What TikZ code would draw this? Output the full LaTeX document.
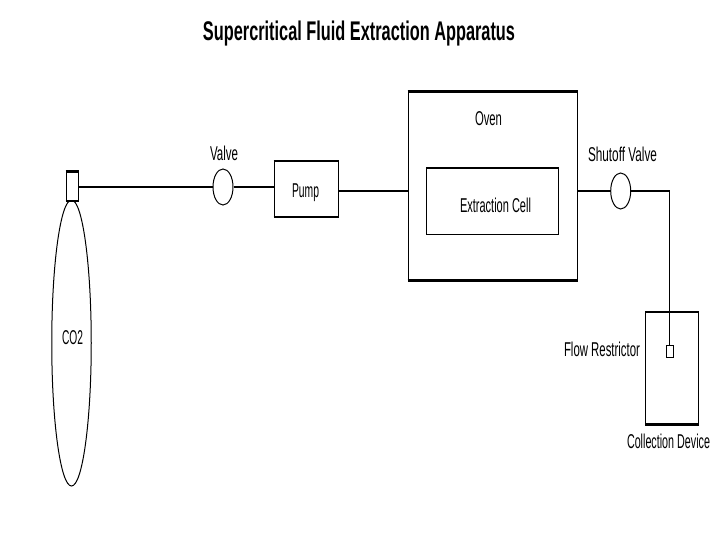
\documentclass[tikz,border=0pt]{standalone}
\usepackage{fontspec}
\usepackage{graphicx}
\setmainfont{Liberation Sans}
\newcommand{\fitw}[2]{\resizebox{#1pt}{\height}{#2}}
\tikzset{
  x=1pt,y=-1pt,
  part/.style={draw=black,line width=1pt,fill=white,inner sep=0pt,minimum width=#1},
  flat/.style={line width=2.2pt,line cap=butt,black},
  mid/.style={line width=1.5pt,line cap=butt,black},
  pipe/.style={line width=1.2pt,black},
  lab/.style={anchor=base,inner sep=0pt,font=\fontsize{20}{21}\selectfont},
  ttl/.style={anchor=base,inner sep=0pt,font=\fontsize{27}{28}\selectfont\bfseries},
  box/.style={rectangle,part=#1},
  oval/.style={ellipse,part=#1}
}
\usetikzlibrary{shapes.geometric}
\begin{document}
\begin{tikzpicture}
\useasboundingbox (0,0) rectangle (720,540);
% parts
\node[oval=39.5pt,minimum height=286pt] (co2) at (71.5,343) {};
\node[box=12pt,minimum height=28.5pt] (neck) at (72,186.3) {};
\node[oval=20pt,minimum height=36pt] (valve) at (223,187) {};
\node[box=64pt,minimum height=54.5pt] (pump) at (306,189) {};
\node[box=169pt,minimum height=188pt] (oven) at (492.5,186) {};
\node[box=132pt,minimum height=65.5pt] (cell) at (492.5,201.5) {};
\node[oval=20pt,minimum height=36pt] (shut) at (620.7,191) {};
\node[box=52.5pt,minimum height=111.5pt] (coll) at (672,368.3) {};
\node[box=7.5pt,minimum height=11.5pt] (restr) at (670.2,351.3) {};
\coordinate (corner) at (669.5,191);
\coordinate (restrtop) at (669.5,345.5);
% connectors
\draw[flat] (neck.east |- valve.west) -- (valve.west);
\draw[flat] (valve.east) -- (pump.west |- valve.east);
\draw[flat] (pump.east |- shut.west) -- (oven.west |- shut.west);
\draw[flat] (oven.east |- shut.west) -- (shut.west);
\draw[flat] (shut.east) -- ([xshift=0.6pt]corner);
\draw[pipe] (corner) -- (restrtop);
% heavier edges of the boxes
\foreach \n in {neck,pump,oven,coll}{
  \draw[flat] (\n.south west) -- (\n.south east);
}
\foreach \n in {neck,oven}{
  \draw[flat] (\n.north west) -- (\n.north east);
}
\foreach \n in {pump,cell,coll}{
  \draw[mid] (\n.north west) -- (\n.north east);
}
% labels
\node[ttl] (title) at (359,41) {\fitw{312}{Supercritical Fluid Extraction Apparatus}};
\node[lab] (tco2) at (72.5,344) {\fitw{21}{CO2}};
\node[lab] (tvalve) at (224,161) {\fitw{28}{Valve}};
\node[lab] (tpump) at (305.5,197) {\fitw{27}{Pump}};
\node[lab] (toven) at (488.5,126) {\fitw{27}{Oven}};
\node[lab] (tcell) at (495.5,213) {\fitw{71}{Extraction Cell}};
\node[lab] (tshut) at (622.5,162) {\fitw{69}{Shutoff Valve}};
\node[lab] (tflow) at (602,356) {\fitw{76}{Flow Restrictor}};
\node[lab] (tcoll) at (668.5,448) {\fitw{83}{Collection Device}};
\end{tikzpicture}
\end{document}
